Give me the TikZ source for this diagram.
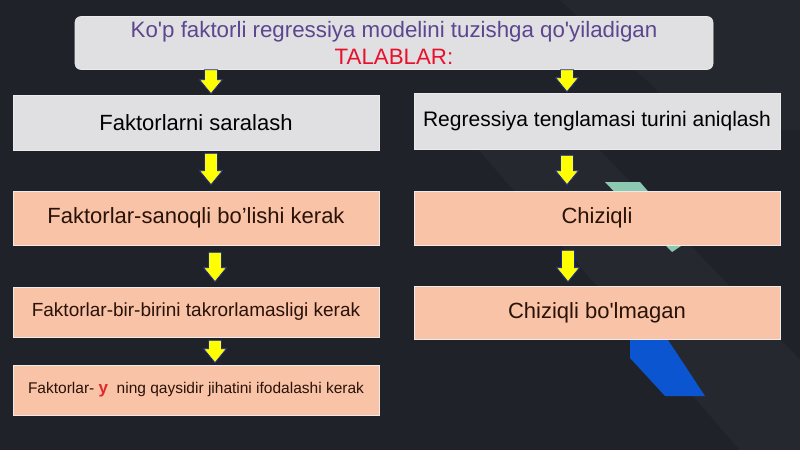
\documentclass[tikz,border=0pt]{standalone}
\usepackage{fontspec}
\newfontfamily\lib{Liberation Sans}
\usetikzlibrary{calc}
\definecolor{bg}{HTML}{1F2229}
\definecolor{boxgray}{HTML}{E0E0E2}
\definecolor{peach}{HTML}{F8C3A6}
\definecolor{peachtext}{HTML}{2A1208}
\definecolor{titlepurple}{HTML}{5C4690}
\definecolor{titlered}{HTML}{E8102C}
\definecolor{arrowyellow}{HTML}{FFFF00}
\definecolor{arrowblue}{HTML}{1C2C96}
\definecolor{teal}{HTML}{8CC9B0}
\definecolor{deco}{HTML}{0B55D0}
\definecolor{yred}{HTML}{E0282C}
\tikzset{
  graybox/.style={rectangle, fill=boxgray, draw=white!92!black, line width=0.6pt,
    minimum width=366pt, inner sep=0pt, text=black, font=\lib\fontsize{22}{26}\selectfont},
  peachbox/.style={graybox, fill=peach, text=peachtext},
  titlebox/.style={rectangle, rounded corners=6pt, fill=boxgray, draw=white!92!black,
    line width=0.6pt, minimum width=638pt, minimum height=53pt, inner sep=0pt,
    align=center, font=\lib\fontsize{22.3}{27}\selectfont},
  blockarrow/.style={fill=arrowyellow, draw=arrowblue, line width=0.8pt, line join=miter}
}
\newcommand\barrow[2]{%
  \path let \p1=#1, \p2=#2 in [blockarrow]
    (\x1-6.5pt,\y1) -- (\x1+6.5pt,\y1) -- (\x1+6.5pt,\y2+14pt) -- (\x1+11.5pt,\y2+14pt)
    -- (\x1,\y2) -- (\x1-11.5pt,\y2+14pt) -- (\x1-6.5pt,\y2+14pt) -- cycle;}
\begin{document}
\begin{tikzpicture}[x=1pt,y=-1pt]
\useasboundingbox (0,0) rectangle (800,450);
\fill[bg] (0,0) rectangle (800,450);
% subtle background bands
\fill[white,opacity=0.03] (470,140) -- (590,140) -- (800,360) -- (800,450) -- (740,450) -- cycle;
\fill[white,opacity=0.025] (560,0) -- (800,0) -- (800,130) -- (700,130) -- cycle;
% decorative stripes
\fill[teal] (605,182) -- (640,182) -- (690,240) -- (672,252) -- cycle;
\fill[deco] (630,340) -- (668,340) -- (705,396) -- (665,396) -- (630,358) -- cycle;

% title
\node[titlebox] (t) at (394,43)
  {\color{titlepurple}Ko'p faktorli regressiya modelini tuzishga qo'yiladigan\\
   \color{titlered}TALABLAR:};

% left column
\node[graybox, minimum height=55pt] (b1) at (196,122.5) {Faktorlarni saralash};
\node[peachbox, minimum height=54pt] (b2) at (196,218) {Faktorlar-sanoqli bo’lishi kerak};
\node[peachbox, minimum height=50pt, font=\lib\fontsize{19}{23}\selectfont] (b3) at (196,312)
  {Faktorlar-bir-birini takrorlamasligi kerak};
\node[peachbox, minimum height=50pt, font=\lib\fontsize{15.5}{19}\selectfont] (b4) at (196,390)
  {Faktorlar- {\color{yred}\bfseries\fontsize{17}{17}\selectfont y}\ \ ning qaysidir jihatini ifodalashi kerak};

% right column
\node[graybox, minimum height=56pt, font=\lib\fontsize{21}{25}\selectfont] (r1) at (597,121)
  {Regressiya tenglamasi turini aniqlash};
\node[peachbox, minimum height=54pt] (r2) at (597,218) {Chiziqli};
\node[peachbox, minimum height=53pt] (r3) at (597,312.5) {Chiziqli bo'lmagan};

% arrows
\barrow{($(t.south -| b1)+(15,0)$)}{($(b1.north)+(15,-1)$)}
\barrow{($(b1.south)+(15,3)$)}{($(b2.north)+(15,-6)$)}
\barrow{($(b2.south)+(19,7)$)}{($(b3.north)+(19,-5)$)}
\barrow{($(b3.south)+(19,3)$)}{($(b4.north)+(19,-2)$)}
\barrow{($(t.south -| r1)+(-30,0)$)}{($(r1.north)+(-30,-1)$)}
\barrow{($(r1.south)+(-30,6)$)}{($(r2.north)+(-30,-6)$)}
\barrow{($(r2.south)+(-29,5)$)}{($(r3.north)+(-29,-4)$)}
\end{tikzpicture}
\end{document}
